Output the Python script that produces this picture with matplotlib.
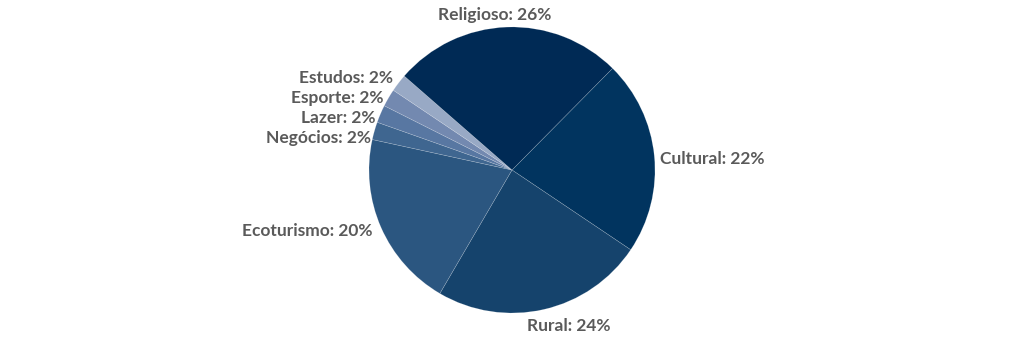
import numpy as np
import matplotlib.pyplot as plt

# data, clockwise starting at the Cultural slice
categories = ["Cultural", "Rural", "Ecoturismo", "Negócios", "Lazer", "Esporte", "Estudos", "Religioso"]
values = [22, 24, 20, 2, 2, 2, 2, 26]
colors = ["#01345F", "#15436C", "#2B5680", "#3F6690", "#5877A2", "#7389B0", "#98A9C5", "#002A55"]

plt.rcParams['font.family'] = ['Lato', 'DejaVu Sans']

fig = plt.figure(figsize=(10.24, 3.44), dpi=100)
ax = fig.add_axes([0, 0, 1, 1])

wedges, _ = ax.pie(values, colors=colors, startangle=45.3, counterclock=False,
                   wedgeprops=dict(linewidth=0.4, edgecolor="#ffffff40"),
                   radius=1.0, center=(0, 0))

scale = 143.0  # px per unit radius

# labels at wedge mid-angles, nudged a little (pixels, y down)
label_r = [1.06, 1.08, 1.04, 1.08, 1.08, 1.08, 1.09, 1.09]
nudge_x = [-3, 22, -3, 8, 6, 5, 5, -12]
nudge_y = [4, 5, 1, 10, 9, 6, 3, 1]
for w, cat, v, r, nx, ny in zip(wedges, categories, values, label_r, nudge_x, nudge_y):
    ang = np.deg2rad((w.theta1 + w.theta2) / 2)
    x = r * np.cos(ang) + nx / scale
    y = r * np.sin(ang) - ny / scale
    if abs(r * np.cos(ang)) < 0.3:
        ha = "center"
    elif x > 0:
        ha = "left"
    else:
        ha = "right"
    ax.text(x, y, f"{cat}: {v}%", ha=ha, va="center", fontsize=12.5,
            fontweight="bold", color="#5a5a5a")

# pie centre at (512, 170) px
ax.set_xlim(-512 / scale, (1024 - 512) / scale)
ax.set_ylim(-(344 - 170) / scale, 170 / scale)
ax.set_aspect("equal")
ax.axis("off")

fig.savefig("out.png", dpi=100, facecolor="white")
